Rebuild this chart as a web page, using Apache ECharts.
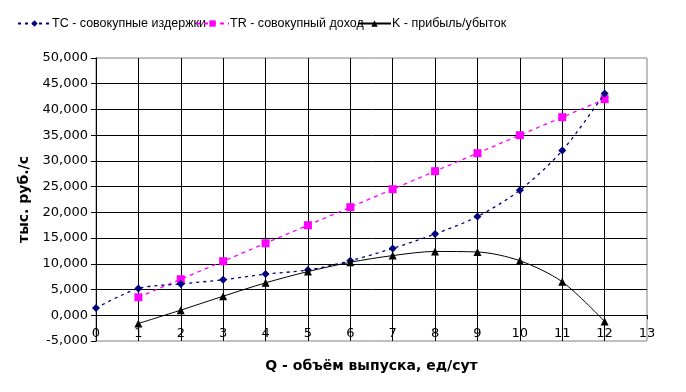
<!DOCTYPE html>
<html><head><meta charset="utf-8">
<script src="https://cdn.jsdelivr.net/npm/echarts@6/dist/echarts.min.js"></script>
<style>html,body{margin:0;padding:0;background:#fff}#c{width:686px;height:392px}</style>
</head><body><div id="c"></div>
<script>
const Q = [0,1,2,3,4,5,6,7,8,9,10,11,12];
const TC = [1.4,5.2,6.1,6.9,8.0,8.8,10.6,13.0,15.8,19.2,24.3,32.0,43.1];
const TR = [null,3.5,7.0,10.5,14.0,17.5,21.0,24.5,28.0,31.5,35.0,38.5,42.0];
const K  = [null,-1.6,1.0,3.7,6.3,8.5,10.3,11.6,12.4,12.3,10.6,6.5,-1.2];
const names = ['TC - совокупные издержки','TR - совокупный доход','K - прибыль/убыток'];
const xTitle = 'Q - объём выпуска, ед/сут';
const yTitle = 'тыс. руб./с';

const pairs = arr => Q.map((q,i)=>[q,arr[i]]).filter(p=>p[1]!==null);
const FONT = 'DejaVu Sans';
const chart = echarts.init(document.getElementById('c'), null, {renderer:'canvas'});
const legendBase = {top:12, itemWidth:33, itemHeight:8, itemGap:0,
  textStyle:{fontFamily:'Liberation Sans', fontSize:12.5, color:'#000', padding:[0,0,0,-4]}};
chart.setOption({
  animation:false,
  backgroundColor:'#fff',
  legend:[
    Object.assign({left:12, data:[names[0]]}, legendBase),
    Object.assign({left:190, data:[names[1]]}, legendBase),
    Object.assign({left:352, data:[names[2]]}, legendBase)
  ],
  grid:{left:96, right:39, top:58, bottom:51, outerBoundsMode:'none', containLabel:false,
    show:true, borderColor:'#808080', borderWidth:1, backgroundColor:'transparent'},
  xAxis:{type:'value', min:0, max:13, interval:1,
    axisLine:{onZero:true, lineStyle:{color:'#000', width:1}},
    axisTick:{show:true, length:4, lineStyle:{color:'#000'}},
    axisLabel:{fontFamily:FONT, fontSize:13, color:'#000', margin:-14},
    splitLine:{show:true, showMinLine:false, showMaxLine:false, lineStyle:{color:'#000', width:1}},
    name:xTitle, nameLocation:'middle', nameGap:18,
    nameTextStyle:{fontFamily:FONT, fontSize:14, fontWeight:'bold', color:'#000'}},
  yAxis:{type:'value', min:-5, max:50, interval:5,
    axisLine:{show:true, lineStyle:{color:'#000', width:1}},
    axisTick:{show:true, length:5, lineStyle:{color:'#000'}},
    axisLabel:{fontFamily:FONT, fontSize:13, color:'#000', margin:8,
      formatter:v=>v.toFixed(3).replace('.',',')},
    splitLine:{show:true, showMinLine:false, showMaxLine:false, lineStyle:{color:'#000', width:1}},
    name:yTitle, nameLocation:'middle', nameGap:62, nameRotate:90,
    nameTextStyle:{fontFamily:FONT, fontSize:14, fontWeight:'bold', color:'#000'}},
  series:[
    {name:names[0], type:'line', data:pairs(TC), smooth:0.3, symbol:'diamond', symbolSize:8,
     lineStyle:{color:'#000080', width:1.3, type:[3,4]}, itemStyle:{color:'#000080'}, z:3},
    {name:names[1], type:'line', data:pairs(TR), smooth:false, symbol:'rect', symbolSize:8,
     lineStyle:{color:'#FF00FF', width:1.3, type:[4,4]}, itemStyle:{color:'#FF00FF'}, z:2},
    {name:names[2], type:'line', data:pairs(K), smooth:0.3, symbol:'triangle', symbolSize:8,
     lineStyle:{color:'#000', width:1}, itemStyle:{color:'#000'}, z:4}
  ]
});
</script></body></html>
